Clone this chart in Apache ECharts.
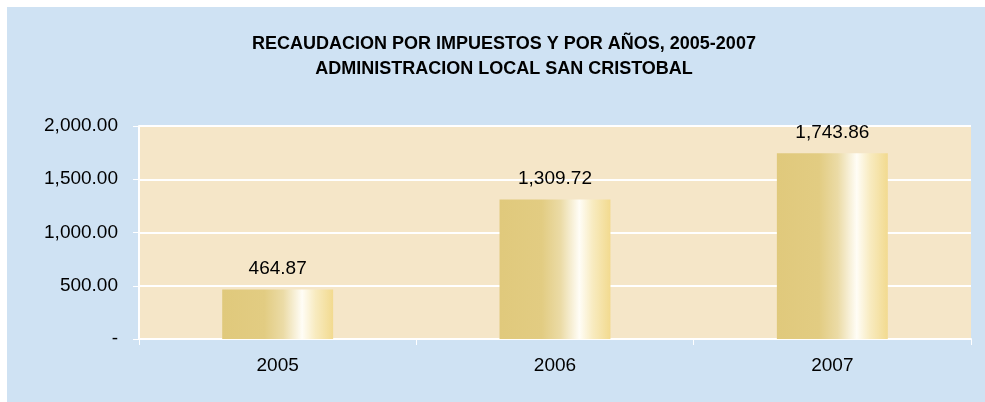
<!DOCTYPE html>
<html>
<head>
<meta charset="utf-8">
<script src="https://cdn.jsdelivr.net/npm/echarts@6/dist/echarts.min.js"></script>
<style>
  html, body { margin: 0; padding: 0; background: #ffffff; overflow: hidden; }
  #panel { position: absolute; left: 7px; top: 7px; width: 978px; height: 395px; background: #cfe2f3; }
  #chart { width: 978px; height: 395px; }
</style>
</head>
<body>
<div id="panel"><div id="chart"></div></div>
<script>
// Recaudación por años (valores)
const years = ['2005', '2006', '2007'];
const recaudacion = [464.87, 1309.72, 1743.86];
const yTicks = { min: 0, max: 2000, interval: 500 };

const fmt = v => v.toLocaleString('en-US', { minimumFractionDigits: 2, maximumFractionDigits: 2 });
const font = '"Liberation Sans", Arial, sans-serif';

// Relleno cilíndrico de las barras
const barFill = new echarts.graphic.LinearGradient(0, 0, 1, 0, [
  { offset: 0, color: '#e0c97c' },
  { offset: 0.38, color: '#e2cc82' },
  { offset: 0.55, color: '#ebdba6' },
  { offset: 0.66, color: '#f8f1da' },
  { offset: 0.72, color: '#fffdf6' },
  { offset: 0.84, color: '#f8ebc0' },
  { offset: 1, color: '#f2da8f' }
]);

const chart = echarts.init(document.getElementById('chart'), null, { renderer: 'canvas' });
chart.setOption({
  backgroundColor: 'transparent',
  animation: false,
  title: {
    text: 'RECAUDACION POR IMPUESTOS Y POR AÑOS, 2005-2007\nADMINISTRACION LOCAL SAN CRISTOBAL',
    left: 492, top: 20, textAlign: 'center',
    textStyle: { fontFamily: font, fontWeight: 'bold', fontSize: 18, color: '#000', lineHeight: 25 }
  },
  grid: {
    left: 132, top: 119, width: 832, height: 213,
    show: true, backgroundColor: '#f5e6c8', borderWidth: 0
  },
  xAxis: {
    type: 'category',
    data: years,
    axisLine: { show: true, lineStyle: { color: '#ffffff', width: 2 } },
    axisTick: { show: true, length: 6, lineStyle: { color: '#ffffff', width: 1 } },
    axisLabel: { color: '#000', fontFamily: font, fontSize: 19, margin: 17 }
  },
  yAxis: {
    type: 'value',
    min: yTicks.min, max: yTicks.max, interval: yTicks.interval,
    axisLine: { show: true, lineStyle: { color: '#ffffff', width: 2 } },
    axisTick: { show: true, length: 6, lineStyle: { color: '#ffffff', width: 1 } },
    splitLine: { show: true, lineStyle: { color: '#ffffff', width: 2 } },
    axisLabel: {
      color: '#000', fontFamily: font, fontSize: 19, margin: 21,
      formatter: v => (v === 0 ? '-' : fmt(v))
    }
  },
  series: [{
    type: 'bar',
    data: recaudacion,
    barWidth: '40%',
    itemStyle: { color: barFill },
    label: {
      show: true, position: 'top', distance: 11,
      color: '#000', fontFamily: font, fontSize: 19,
      formatter: p => fmt(p.value)
    }
  }]
});
</script>
</body>
</html>
